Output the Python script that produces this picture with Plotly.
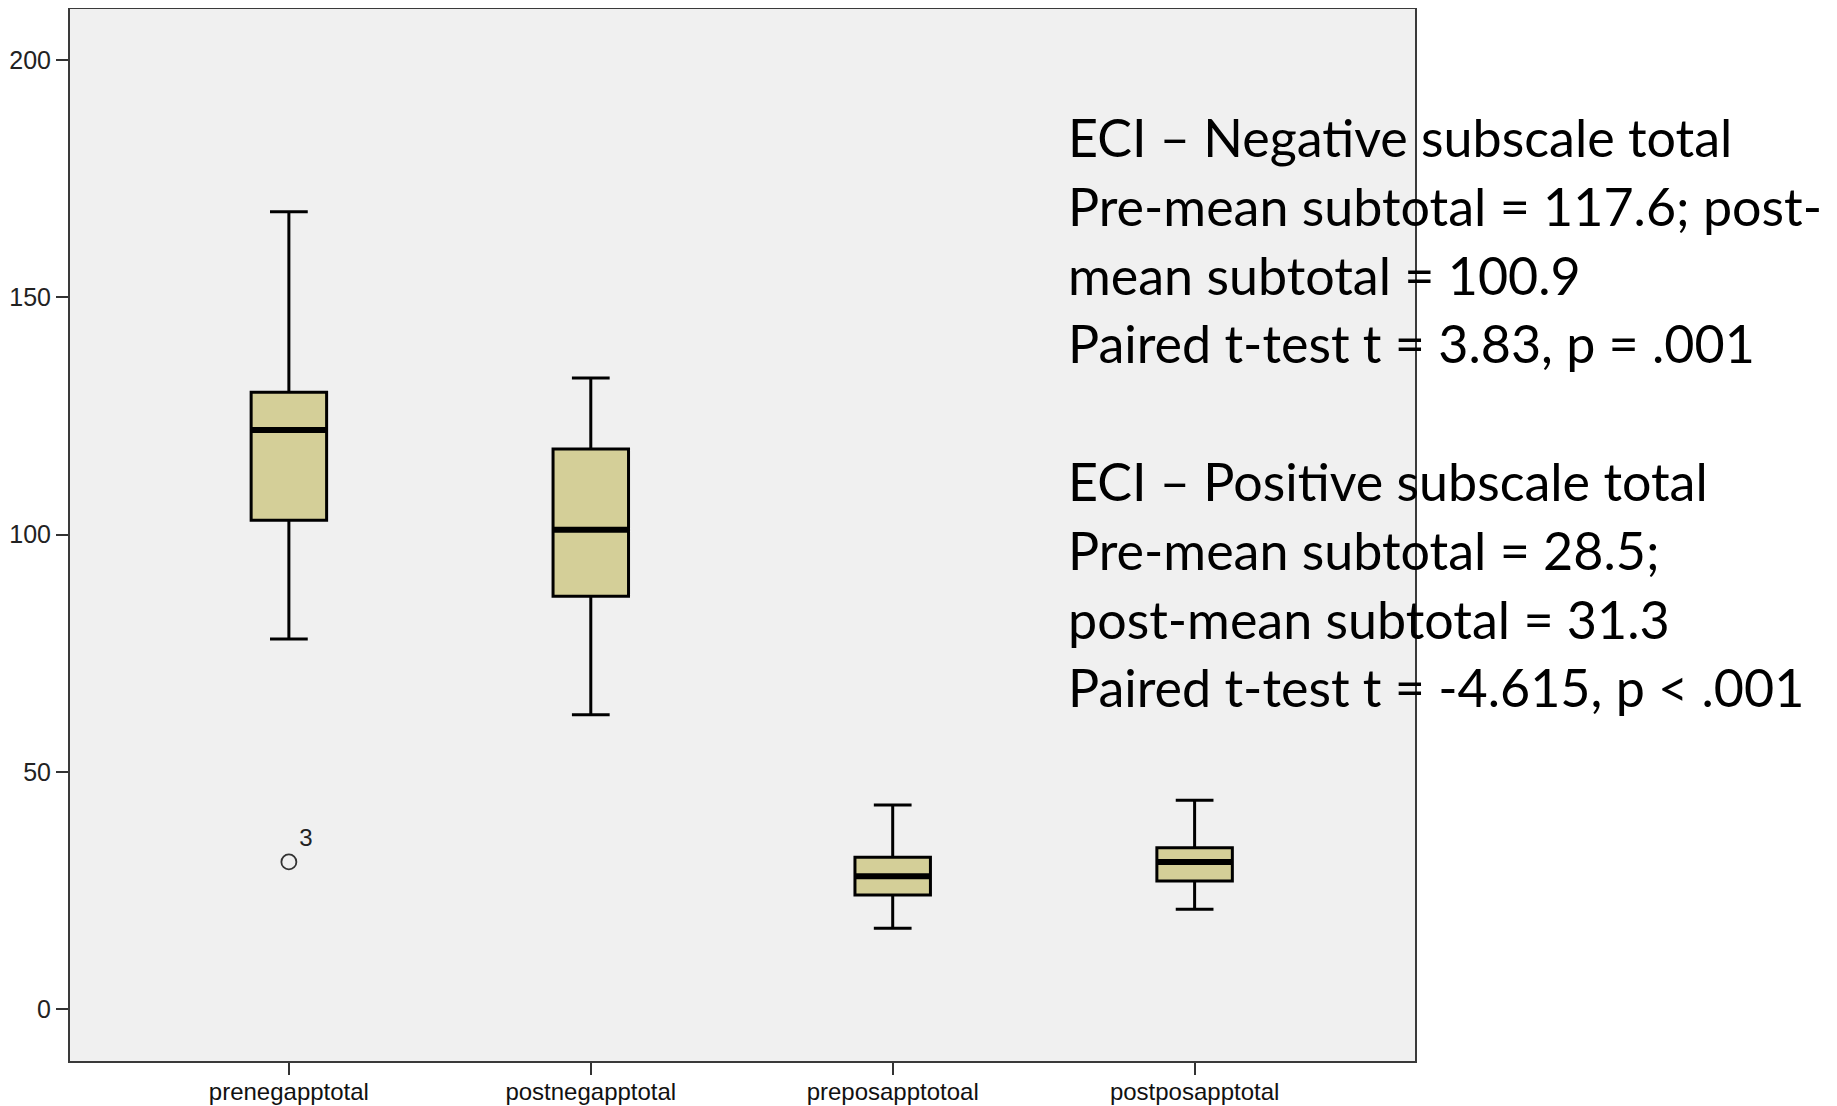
import plotly.graph_objects as go

categories = ["prenegapptotal", "postnegapptotal", "preposapptotoal", "postposapptotal"]
lower_fence = [78, 62, 17, 21]
q1 = [103, 87, 24, 27]
median = [122, 101, 28, 31]
q3 = [130, 118, 32, 34]
upper_fence = [168, 133, 43, 44]

outlier_cat = ["prenegapptotal"]
outlier_val = [31]
outlier_label = ["3"]

y_ticks = [0, 50, 100, 150, 200]

annot_lines = [
    "ECI \u2013 Negative subscale total",
    "Pre-mean subtotal = 117.6; post-",
    "mean subtotal = 100.9",
    "Paired t-test t = 3.83, p = .001",
    "",
    "ECI \u2013 Positive subscale total",
    "Pre-mean subtotal = 28.5;",
    "post-mean subtotal = 31.3",
    "Paired t-test t = -4.615, p < .001",
]

OFF = 8  # page body margin (figure is shifted by this on the page)
W, H_FIG = 1837, 1106
L, T = 70 - OFF, 9 - OFF
R, B = W - (1415 - OFF), H_FIG - (1061 - OFF)
H = H_FIG - T - B
PW = W - L - R

BOX_W = 0.25
fig = go.Figure()
fig.add_trace(go.Box(
    x=categories, q1=q1, median=median, q3=q3,
    lowerfence=lower_fence, upperfence=upper_fence,
    fillcolor="#D4CF98", line=dict(color="#000000", width=3),
    width=BOX_W, whiskerwidth=0.5, boxpoints=False, showlegend=False,
    hoverinfo="skip",
))
fig.add_trace(go.Scatter(
    x=outlier_cat, y=outlier_val, mode="markers+text", text=outlier_label,
    textposition="top right",
    textfont=dict(family="Liberation Sans", size=24, color="#222"),
    marker=dict(symbol="circle-open", size=15, color="#333", line=dict(width=1.8)),
    showlegend=False, cliponaxis=False,
))

# thick median bars
for i, m in enumerate(median):
    fig.add_shape(type="line", xref="x", yref="y",
                  x0=i - BOX_W / 2, x1=i + BOX_W / 2, y0=m, y1=m,
                  line=dict(color="#000000", width=6))

line_step = 68.8
first_center = 137 - OFF
for k, txt in enumerate(annot_lines):
    if not txt:
        continue
    ypix = first_center + k * line_step - T
    fig.add_annotation(
        xref="paper", yref="paper", x=(1066 - OFF - L) / PW, y=1 - ypix / H,
        xanchor="left", yanchor="middle", showarrow=False, text=txt,
        font=dict(family="Lato", size=52, color="#000000"),
    )

fig.update_layout(
    width=W, height=H_FIG,
    margin=dict(l=L, r=R, t=T, b=B, pad=0, autoexpand=False),
    paper_bgcolor="white", plot_bgcolor="#F0F0F0",
    font=dict(family="Liberation Sans", color="#222"),
)
fig.update_xaxes(
    type="category", range=[-0.725, 3.73], showgrid=False, zeroline=False,
    showline=True, linecolor="#3a3a3a", linewidth=2, mirror=True, automargin=False,
    ticks="outside", ticklen=12, tickwidth=2, tickcolor="#333",
    ticklabelstandoff=-4,
    tickfont=dict(family="Liberation Sans", size=24, color="#111"),
)
fig.update_yaxes(
    range=[-10.96, 210.75], tickvals=y_ticks, showgrid=False, zeroline=False,
    showline=True, linecolor="#3a3a3a", linewidth=2, mirror=True, automargin=False,
    ticks="outside", ticklen=12, tickwidth=2, tickcolor="#333",
    tickfont=dict(family="Liberation Sans", size=25, color="#222"),
)

fig.write_html("out.html")
